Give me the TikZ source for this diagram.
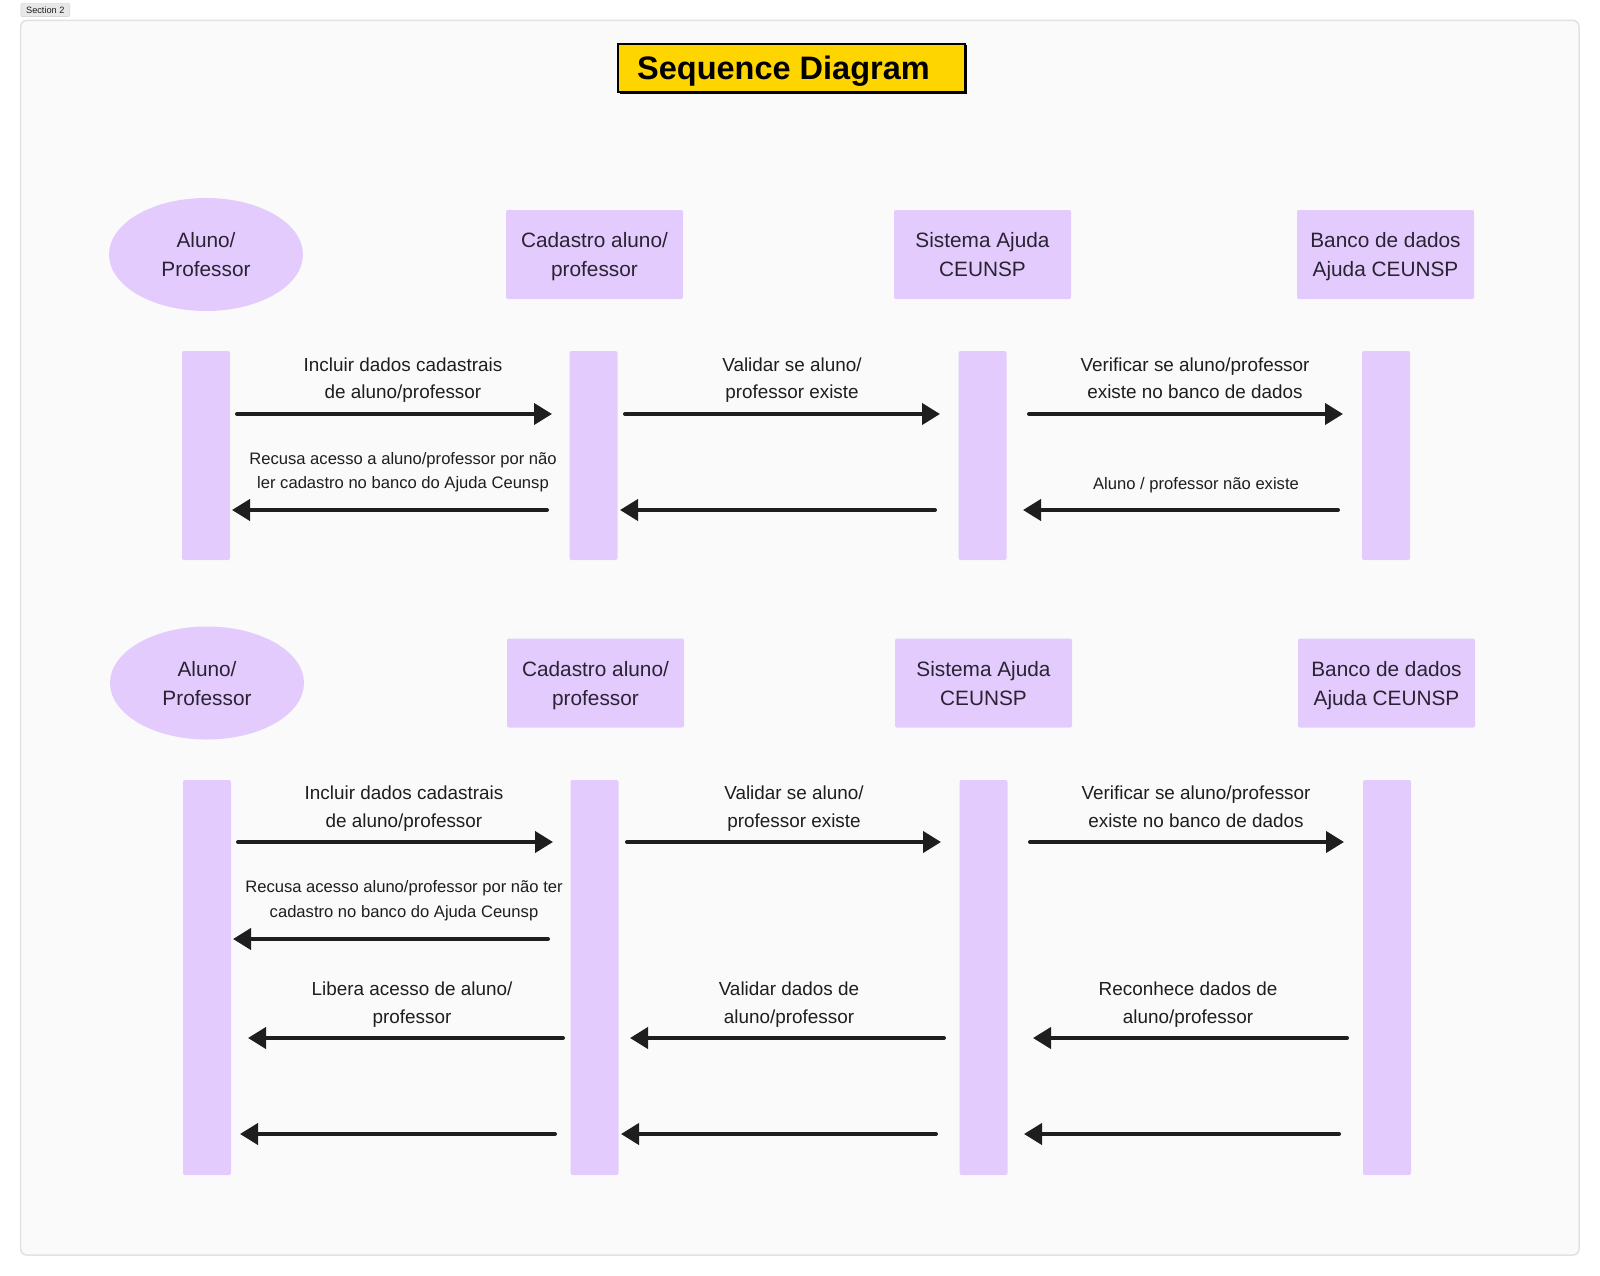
\documentclass[tikz,border=0pt]{standalone}
\usepackage{fontspec}
\setmainfont{Liberation Sans}
\usetikzlibrary{arrows.meta,shapes.geometric}
\definecolor{lav}{HTML}{E3CCFD}
\definecolor{ink}{HTML}{1E1E1E}
\definecolor{hdr}{HTML}{2B2233}
\definecolor{frameb}{HTML}{E2E2E2}
\definecolor{framef}{HTML}{FAFAFA}
\definecolor{gold}{HTML}{FFD500}
\definecolor{tagf}{HTML}{E8E8E8}
\definecolor{tagb}{HTML}{CDCDCD}
\newcommand\hdA{\rule{0pt}{20pt}}
\newcommand\hdD{\rule[-5pt]{0pt}{5pt}}
\newcommand\lbA{\rule{0pt}{18pt}}
\newcommand\lbD{\rule[-5pt]{0pt}{5pt}}
\newcommand\smA{\rule{0pt}{16pt}}
\newcommand\smD{\rule[-4.5pt]{0pt}{4.5pt}}
\tikzset{
  actor/.style={ellipse, fill=lav, draw=none, minimum width=194pt, minimum height=113pt, inner sep=0pt,
    align=center, text=hdr, font=\fontsize{20.8}{29}\selectfont},
  sysbox/.style={rectangle, fill=lav, draw=none, rounded corners=2pt, minimum width=177pt, minimum height=89pt,
    inner sep=0pt, align=center, text=hdr, font=\fontsize{20.8}{29}\selectfont},
  lifebar/.style={rectangle, fill=lav, draw=none, rounded corners=2pt, minimum width=48pt, inner sep=0pt},
  msg/.style={line width=4pt, draw=ink, line cap=round, -{Triangle[length=18pt,width=21pt]}},
  biglbl/.style={align=center, text=ink, inner sep=0pt, font=\fontsize{18.9}{27.5}\selectfont},
  smalllbl/.style={align=center, text=ink, inner sep=0pt, font=\fontsize{16.6}{24.5}\selectfont},
}
\begin{document}
\begin{tikzpicture}[x=1pt,y=-1pt]
\useasboundingbox (0,0) rectangle (1600,1276);
\fill[white] (0,0) rectangle (1600,1276);
% section tag and frame
\node[draw=tagb, fill=tagf, rounded corners=2pt, minimum width=49pt, minimum height=13.4pt,
  inner sep=0pt, font=\fontsize{9.2}{10}\selectfont, text=ink] (tag) at (45.3,10) {Section 2};
\draw[frameb, fill=framef, line width=1.5pt, rounded corners=6pt] (20.7,20.5) rectangle (1579,1255);
% title
\fill[black] (619.5,45.5) rectangle (967,94);
\draw[black, fill=gold, line width=2pt] (618.3,44.3) rectangle (965,92);
\node[anchor=base west, inner sep=0pt, font=\bfseries\fontsize{32.5}{36}\selectfont, text=black] (title) at (637,80) {Sequence Diagram};

% ---------- top diagram ----------
\node[actor] (ua) at (206,254.5) {Aluno/\hdA\\Professor\hdD};
\node[sysbox] (ub) at (594.5,254.5) {Cadastro aluno/\hdA\\professor\hdD};
\node[sysbox] (uc) at (982.5,254.5) {Sistema Ajuda\hdA\\CEUNSP\hdD};
\node[sysbox] (ud) at (1385.5,254.5) {Banco de dados\hdA\\Ajuda CEUNSP\hdD};

\node[lifebar, minimum height=209pt] (ta) at (206,455.5) {};
\node[lifebar, minimum height=209pt] (tb) at (593.5,455.5) {};
\node[lifebar, minimum height=209pt] (tc) at (982.5,455.5) {};
\node[lifebar, minimum height=209pt] (td) at (1386,455.5) {};

\coordinate (t1s) at (237,414);  \coordinate (t1e) at (552,414);
\coordinate (t2s) at (625,414);  \coordinate (t2e) at (940,414);
\coordinate (t3s) at (1029,414); \coordinate (t3e) at (1343,414);
\coordinate (t4s) at (547,510);  \coordinate (t4e) at (232,510);
\coordinate (t5s) at (935,510);  \coordinate (t5e) at (620,510);
\coordinate (t6s) at (1338,510); \coordinate (t6e) at (1023,510);
\draw[msg] (t1s) -- (t1e);
\draw[msg] (t2s) -- (t2e);
\draw[msg] (t3s) -- (t3e);
\draw[msg] (t4s) -- (t4e);
\draw[msg] (t5s) -- (t5e);
\draw[msg] (t6s) -- (t6e);

\node[biglbl] (tl1) at (403,378.3) {Incluir dados cadastrais\lbA\\de aluno/professor\lbD};
\node[biglbl] (tl2) at (792,378.3) {Validar se aluno/\lbA\\professor existe\lbD};
\node[biglbl] (tl3) at (1195,378.3) {Verificar se aluno/professor\lbA\\existe no banco de dados\lbD};
\node[smalllbl] (tl4) at (403,470.8) {Recusa acesso a aluno/professor por não\smA\\ler cadastro no banco do Ajuda Ceunsp\smD};
\node[smalllbl] (tl5) at (1196,483.3) {Aluno / professor não existe\smA\smD};

% ---------- bottom diagram ----------
\node[actor] (la) at (207,683) {Aluno/\hdA\\Professor\hdD};
\node[sysbox] (lb) at (595.5,683) {Cadastro aluno/\hdA\\professor\hdD};
\node[sysbox] (lc) at (983.5,683) {Sistema Ajuda\hdA\\CEUNSP\hdD};
\node[sysbox] (ld) at (1386.5,683) {Banco de dados\hdA\\Ajuda CEUNSP\hdD};

\node[lifebar, minimum height=395pt] (ba) at (207,977.5) {};
\node[lifebar, minimum height=395pt] (bb) at (594.5,977.5) {};
\node[lifebar, minimum height=395pt] (bc) at (983.5,977.5) {};
\node[lifebar, minimum height=395pt] (bd) at (1387,977.5) {};

\coordinate (b1s) at (238,842);  \coordinate (b1e) at (553,842);
\coordinate (b2s) at (627,842);  \coordinate (b2e) at (941,842);
\coordinate (b3s) at (1030,842); \coordinate (b3e) at (1344,842);
\coordinate (b4s) at (548,939);  \coordinate (b4e) at (233,939);
\coordinate (b5s) at (563,1038); \coordinate (b5e) at (248,1038);
\coordinate (b6s) at (944,1038); \coordinate (b6e) at (630,1038);
\coordinate (b7s) at (1347,1038);\coordinate (b7e) at (1033,1038);
\coordinate (b8s) at (555,1134); \coordinate (b8e) at (240,1134);
\coordinate (b9s) at (936,1134); \coordinate (b9e) at (621,1134);
\coordinate (b10s) at (1339,1134);\coordinate (b10e) at (1024,1134);
\draw[msg] (b1s) -- (b1e);
\draw[msg] (b2s) -- (b2e);
\draw[msg] (b3s) -- (b3e);
\draw[msg] (b4s) -- (b4e);
\draw[msg] (b5s) -- (b5e);
\draw[msg] (b6s) -- (b6e);
\draw[msg] (b7s) -- (b7e);
\draw[msg] (b8s) -- (b8e);
\draw[msg] (b9s) -- (b9e);
\draw[msg] (b10s) -- (b10e);

\node[biglbl] (bl1) at (404,806.8) {Incluir dados cadastrais\lbA\\de aluno/professor\lbD};
\node[biglbl] (bl2) at (794,806.8) {Validar se aluno/\lbA\\professor existe\lbD};
\node[biglbl] (bl3) at (1196,806.8) {Verificar se aluno/professor\lbA\\existe no banco de dados\lbD};
\node[smalllbl] (bl4) at (404,899.3) {Recusa acesso aluno/professor por não ter\smA\\cadastro no banco do Ajuda Ceunsp\smD};
\node[biglbl] (bl5) at (412,1002.8) {Libera acesso de aluno/\lbA\\professor\lbD};
\node[biglbl] (bl6) at (789,1002.8) {Validar dados de\lbA\\aluno/professor\lbD};
\node[biglbl] (bl7) at (1188,1002.8) {Reconhece dados de\lbA\\aluno/professor\lbD};
\end{tikzpicture}
\end{document}
